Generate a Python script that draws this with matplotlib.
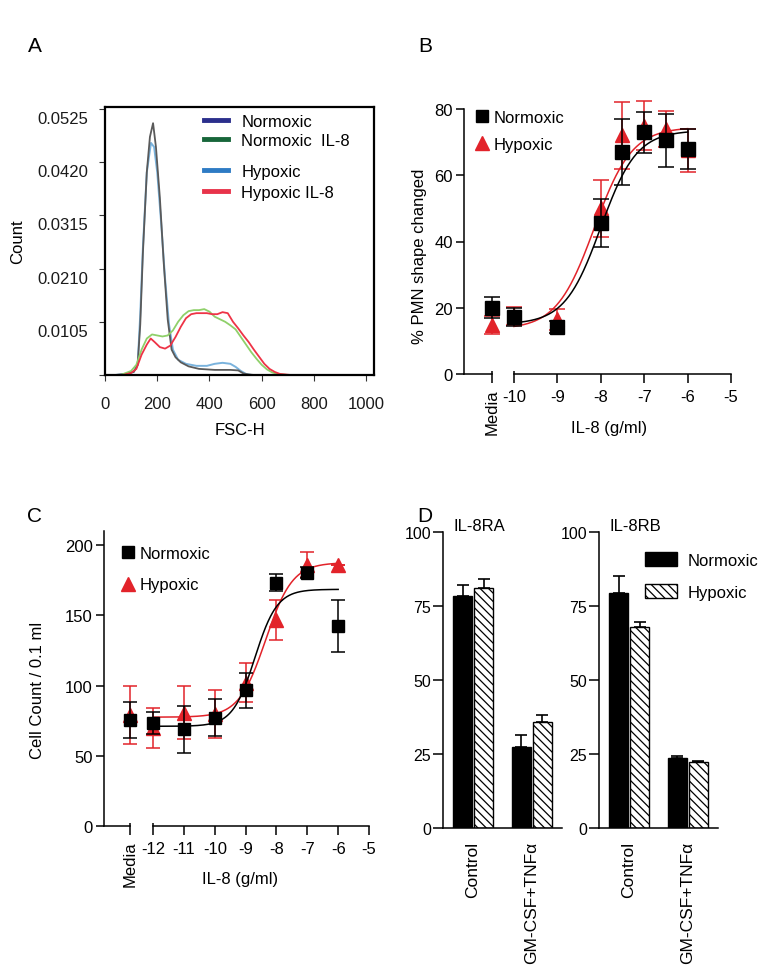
import matplotlib
matplotlib.use('Agg')
import matplotlib.pyplot as plt
import matplotlib.transforms as mtransforms
from matplotlib.lines import Line2D
from matplotlib.patches import Patch
import numpy as np

plt.rcParams['font.family'] = ['Liberation Sans', 'DejaVu Sans']
plt.rcParams['hatch.linewidth'] = 0.9

RED = '#e2232a'

# ---- A: FSC-H histograms ----
norm_x = [40, 80, 110, 125, 135, 145, 160, 172, 184, 195, 210, 225, 240, 255, 270, 290, 320, 360, 420, 480, 510, 530, 550, 570]
norm_y = [0, 0.0002, 0.0006, 0.002, 0.010, 0.024, 0.040, 0.047, 0.0497, 0.045, 0.035, 0.022, 0.011, 0.005,
          0.0035, 0.0025, 0.0017, 0.0012, 0.001, 0.001, 0.0009, 0.0003, 0.0001, 0]
hyp_x = [40, 80, 110, 125, 135, 145, 160, 176, 188, 200, 215, 230, 245, 260, 280, 310, 350, 390, 420, 450,
         480, 500, 520, 540, 560]
hyp_y = [0, 0.0002, 0.0006, 0.002, 0.012, 0.025, 0.040, 0.0458, 0.045, 0.040, 0.030, 0.019, 0.010, 0.005,
         0.003, 0.0022, 0.0018, 0.0018, 0.0022, 0.0024, 0.0022, 0.0016, 0.0008, 0.0002, 0]
norm_il8_x = [60, 100, 120, 140, 160, 180, 200, 220, 240, 260, 280, 300, 320, 340, 360, 380, 400, 420, 440,
              460, 480, 500, 520, 540, 560, 580, 600, 620, 640, 660, 680, 700]
norm_il8_y = [0, 0.0008, 0.002, 0.005, 0.0072, 0.008, 0.0078, 0.0076, 0.0078, 0.0088, 0.0105, 0.0118, 0.0126,
              0.0128, 0.0128, 0.013, 0.0125, 0.0115, 0.011, 0.0105, 0.0098, 0.009, 0.0075, 0.006, 0.0045,
              0.0032, 0.002, 0.0011, 0.0005, 0.0002, 0.0001, 0]
hyp_il8_x = [70, 100, 120, 140, 160, 175, 190, 210, 230, 250, 270, 290, 310, 330, 350, 370, 390, 410, 430,
             450, 470, 490, 510, 530, 550, 570, 590, 610, 630, 650, 670, 690, 710]
hyp_il8_y = [0, 0.0004, 0.0012, 0.004, 0.006, 0.0072, 0.0065, 0.0055, 0.0052, 0.0058, 0.0075, 0.0095, 0.0112,
             0.012, 0.0122, 0.0122, 0.0122, 0.012, 0.012, 0.0124, 0.0122, 0.0105, 0.0092, 0.0078, 0.0065,
             0.005, 0.0036, 0.0022, 0.0012, 0.0006, 0.0002, 0.0001, 0]
a_yticks = [0, 0.0105, 0.0210, 0.0315, 0.0420, 0.0525]
a_yticklabels = ['', '0.0105', '0.0210', '0.0315', '0.0420', '0.0525']

# ---- B: shape change ----
b_doses = [-10, -9, -8, -7.5, -7, -6.5, -6]
b_norm = [17.1, 14.3, 45.5, 67.0, 73.0, 70.5, 68.0]
b_norm_err = [2.7, 1.8, 7.3, 10.0, 6.2, 7.9, 6.0]
b_norm_media, b_norm_media_err = 20.0, 3.2
b_hyp = [17.5, 16.5, 50.0, 72.0, 75.0, 74.0, 67.5]
b_hyp_err = [2.8, 3.2, 8.5, 10.0, 7.5, 5.5, 6.5]
b_hyp_media, b_hyp_media_err = 14.8, 2.7
# 4PL fit: bottom, top, logEC50, hill
b_norm_fit = (15.0, 73.5, -8.0, 1.05)
b_hyp_fit = (13.5, 74.5, -8.15, 1.0)

# ---- C: cell count ----
c_doses = [-12, -11, -10, -9, -8, -7, -6]
c_norm = [73.5, 68.8, 77.1, 96.6, 173.2, 180.3, 142.3]
c_norm_err = [8.0, 16.8, 13.3, 12.5, 6.0, 4.0, 18.7]
c_norm_media, c_norm_media_err = 75.2, 12.8
c_hyp = [70.0, 80.7, 80.0, 102.0, 146.6, 186.0, 185.5]
c_hyp_err = [14.2, 19.0, 17.0, 14.0, 14.2, 9.0, 0.0]
c_hyp_media, c_hyp_media_err = 78.9, 20.7
c_norm_fit = (71.0, 168.5, -8.7, 1.2)
c_hyp_fit = (77.5, 187.5, -8.35, 1.0)

# ---- D: receptor expression ----
d_groups = ['Control', 'GM-CSF+TNF\u03b1']
ra_norm = [78.3, 27.4]
ra_norm_err = [3.9, 4.1]
ra_hyp = [81.2, 35.8]
ra_hyp_err = [3.0, 2.5]
rb_norm = [79.4, 23.6]
rb_norm_err = [5.6, 0.7]
rb_hyp = [67.9, 22.3]
rb_hyp_err = [1.7, 0.3]


def fourpl(x, fit):
    bottom, top, logec50, hill = fit
    return bottom + (top - bottom) / (1 + 10 ** ((logec50 - x) * hill))


def histpanel(ax):
    ax.plot(hyp_x, hyp_y, color='#7ab3dd', lw=1.4)
    ax.plot(norm_x, norm_y, color='#5a5a5a', lw=1.3)
    ax.plot(norm_il8_x, norm_il8_y, color='#8fd06a', lw=1.3)
    ax.plot(hyp_il8_x, hyp_il8_y, color='#ee3346', lw=1.3)
    ax.set_xlim(0, 1030)
    ax.set_ylim(0, 0.0529)
    ax.set_xticks([0, 200, 400, 600, 800, 1000])
    ax.set_yticks(a_yticks)
    ax.set_yticklabels(a_yticklabels)
    for s in ax.spines.values():
        s.set_linewidth(1.6)
    ax.tick_params(labelsize=12, length=4, width=0.8, colors='#333333', labelcolor='#1a1a1a')
    ax.tick_params(axis='x', pad=11)
    ax.tick_params(axis='y', pad=8)
    shift = mtransforms.ScaledTranslation(0, -0.08, ax.figure.dpi_scale_trans)
    for lab in ax.get_yticklabels():
        lab.set_transform(lab.get_transform() + shift)
    ax.set_ylabel('Count', fontsize=12)
    ax.yaxis.set_label_coords(-0.297, 0.5)
    ax.set_xlabel('FSC-H', fontsize=12)
    ax.xaxis.set_label_coords(0.5, -0.175)
    h1 = [Line2D([], [], color='#2b2f8c', lw=3.5), Line2D([], [], color='#17663a', lw=3.5)]
    h2 = [Line2D([], [], color='#2e7bc4', lw=3.5), Line2D([], [], color='#e8334a', lw=3.5)]
    kw = dict(frameon=False, fontsize=12, handlelength=1.45, handletextpad=0.78,
              borderpad=0, borderaxespad=0, loc='upper left')
    leg1 = ax.legend(h1, ['Normoxic', 'Normoxic  IL-8'], bbox_to_anchor=(0.368, 0.975),
                     labelspacing=0.28, **kw)
    ax.add_artist(leg1)
    ax.legend(h2, ['Hypoxic', 'Hypoxic IL-8'], bbox_to_anchor=(0.368, 0.786),
              labelspacing=0.32, **kw)


def dosepanel(ax, media_pos, doses, norm, norm_err, nm, nm_err, hyp, hyp_err, hm, hm_err,
              norm_fit, hyp_fit, xlim, ylim, yticks, up, ms, capsize, leg_anchor, leg_space):
    xs = np.linspace(doses[0], doses[-1], 300)
    # hypoxic first, normoxic squares on top
    ax.errorbar([media_pos] + doses, [hm] + hyp, yerr=[hm_err] + hyp_err, fmt='^', color=RED,
                ms=ms + 1, capsize=capsize, elinewidth=1.1, capthick=1.1, clip_on=False, zorder=3)
    ax.plot(xs, fourpl(xs, hyp_fit), color=RED, lw=1.1, zorder=4)
    ax.errorbar([media_pos] + doses, [nm] + norm, yerr=[nm_err] + norm_err, fmt='s', color='black',
                ms=ms, capsize=capsize, elinewidth=1.1, capthick=1.1, clip_on=False, zorder=5)
    ax.plot(xs, fourpl(xs, norm_fit), color='black', lw=1.1, zorder=6)
    ax.set_xlim(*xlim)
    ax.set_ylim(*ylim)
    ax.set_yticks(yticks)
    ax.spines['top'].set_visible(False)
    ax.spines['right'].set_visible(False)
    ax.spines['bottom'].set_visible(False)
    ax.spines['left'].set_linewidth(1.1)
    ax.spines['left'].set_bounds(0, ylim[1])
    # broken x axis: Media segment and dose segment
    ax.plot([xlim[0], media_pos], [0, 0], color='black', lw=1.1, clip_on=False)
    ax.plot([doses[0], -5], [0, 0], color='black', lw=1.1, clip_on=False)
    ax.vlines([media_pos, doses[0]], 0, up, color='black', lw=1.1, clip_on=False)
    ticks = [media_pos] + list(range(int(doses[0]), -4))
    ax.set_xticks(ticks)
    ax.set_xticklabels(['Media'] + ['%d' % t for t in ticks[1:]])
    ax.get_xticklabels()[0].set_rotation(90)
    ax.tick_params(labelsize=12, width=1.1)
    ax.tick_params(axis='x', length=6.5, pad=4)
    ax.tick_params(axis='y', length=6, pad=2)
    ax.set_xlabel('IL-8 (g/ml)', fontsize=12)
    leg = [Line2D([], [], marker='s', ls='none', color='black', ms=ms - 1),
           Line2D([], [], marker='^', ls='none', color=RED, ms=ms + 1)]
    ax.legend(leg, ['Normoxic', 'Hypoxic'], frameon=False, fontsize=12, loc='upper left',
              bbox_to_anchor=leg_anchor, borderpad=0, borderaxespad=0, handlelength=1.0,
              handletextpad=0.2, labelspacing=leg_space)


def barpanel(ax, title, norm, norm_err, hyp, hyp_err, legend=False):
    pos = np.arange(len(d_groups))
    w, off = 0.31, 0.178
    ax.bar(pos - off, norm, w, color='black', edgecolor='black', lw=1, zorder=2)
    ax.bar(pos + off, hyp, w, color='white', edgecolor='black', hatch='\\\\\\\\', lw=1, zorder=2)
    ax.errorbar(pos - off, norm, yerr=[[0] * len(norm), norm_err], fmt='none', ecolor='black',
                capsize=4, elinewidth=1.2, capthick=1.2, zorder=1)
    ax.errorbar(pos + off, hyp, yerr=[[0] * len(hyp), hyp_err], fmt='none', ecolor='black',
                capsize=4, elinewidth=1.2, capthick=1.2, zorder=1)
    ax.set_xlim(-0.51, 1.51)
    ax.set_ylim(0, 100)
    ax.set_yticks([0, 25, 50, 75, 100])
    ax.set_xticks(pos)
    ax.set_xticklabels(d_groups, rotation=90, fontsize=12.5)
    ax.spines['top'].set_visible(False)
    ax.spines['right'].set_visible(False)
    for s in ['left', 'bottom']:
        ax.spines[s].set_linewidth(1.1)
    ax.tick_params(axis='x', length=0, pad=9)
    ax.tick_params(axis='y', length=7, width=1.1, pad=1.5, labelsize=11.5)
    ax.text(0.085, 1.02, title, transform=ax.transAxes, fontsize=12, va='center', ha='left')
    if legend:
        h = [Patch(facecolor='black', edgecolor='black'),
             Patch(facecolor='white', edgecolor='black', hatch='\\\\\\\\')]
        ax.legend(h, ['Normoxic', 'Hypoxic'], frameon=False, fontsize=12, loc='upper left',
                  bbox_to_anchor=(0.387, 0.931), borderpad=0, borderaxespad=0,
                  handlelength=1.9, handleheight=0.85, handletextpad=0.65, labelspacing=1.0)


fig = plt.figure(figsize=(7.71, 9.70), dpi=100)

axA = fig.add_axes([0.1362, 0.6124, 0.3489, 0.2763])
histpanel(axA)

axB = fig.add_axes([0.6018, 0.6134, 0.3463, 0.2732])
dosepanel(axB, -10.5, b_doses, b_norm, b_norm_err, b_norm_media, b_norm_media_err,
          b_hyp, b_hyp_err, b_hyp_media, b_hyp_media_err, b_norm_fit, b_hyp_fit,
          (-11.15, -5), (0, 80), [0, 20, 40, 60, 80], 0.9, 9.5, 6, (0.037, 0.997), 0.72)
axB.set_ylabel('% PMN shape changed', fontsize=12)
axB.yaxis.set_label_coords(-0.139, 0.449)
axB.xaxis.set_label_coords(0.543, -0.174)

axC = fig.add_axes([0.1349, 0.1474, 0.3437, 0.3041])
dosepanel(axC, -12.75, c_doses, c_norm, c_norm_err, c_norm_media, c_norm_media_err,
          c_hyp, c_hyp_err, c_hyp_media, c_hyp_media_err, c_norm_fit, c_hyp_fit,
          (-13.59, -5), (0, 210), [0, 50, 100, 150, 200], 2.1, 9, 5, (0.06, 0.95), 1.0)
axC.set_ylabel('Cell Count / 0.1 ml', fontsize=12)
axC.yaxis.set_label_coords(-0.223, 0.464)
axC.xaxis.set_label_coords(0.513, -0.153)

axD1 = fig.add_axes([0.5746, 0.1454, 0.1543, 0.3052])
barpanel(axD1, 'IL-8RA', ra_norm, ra_norm_err, ra_hyp, ra_hyp_err)
axD2 = fig.add_axes([0.7769, 0.1454, 0.1543, 0.3052])
barpanel(axD2, 'IL-8RB', rb_norm, rb_norm_err, rb_hyp, rb_hyp_err, legend=True)

for letter, x, y in [('A', 35, 46), ('B', 425, 46), ('C', 35, 516), ('D', 425, 516)]:
    fig.text(x / 771, 1 - y / 970, letter, fontsize=15, ha='center', va='center')

fig.savefig('out.png', dpi=100)
